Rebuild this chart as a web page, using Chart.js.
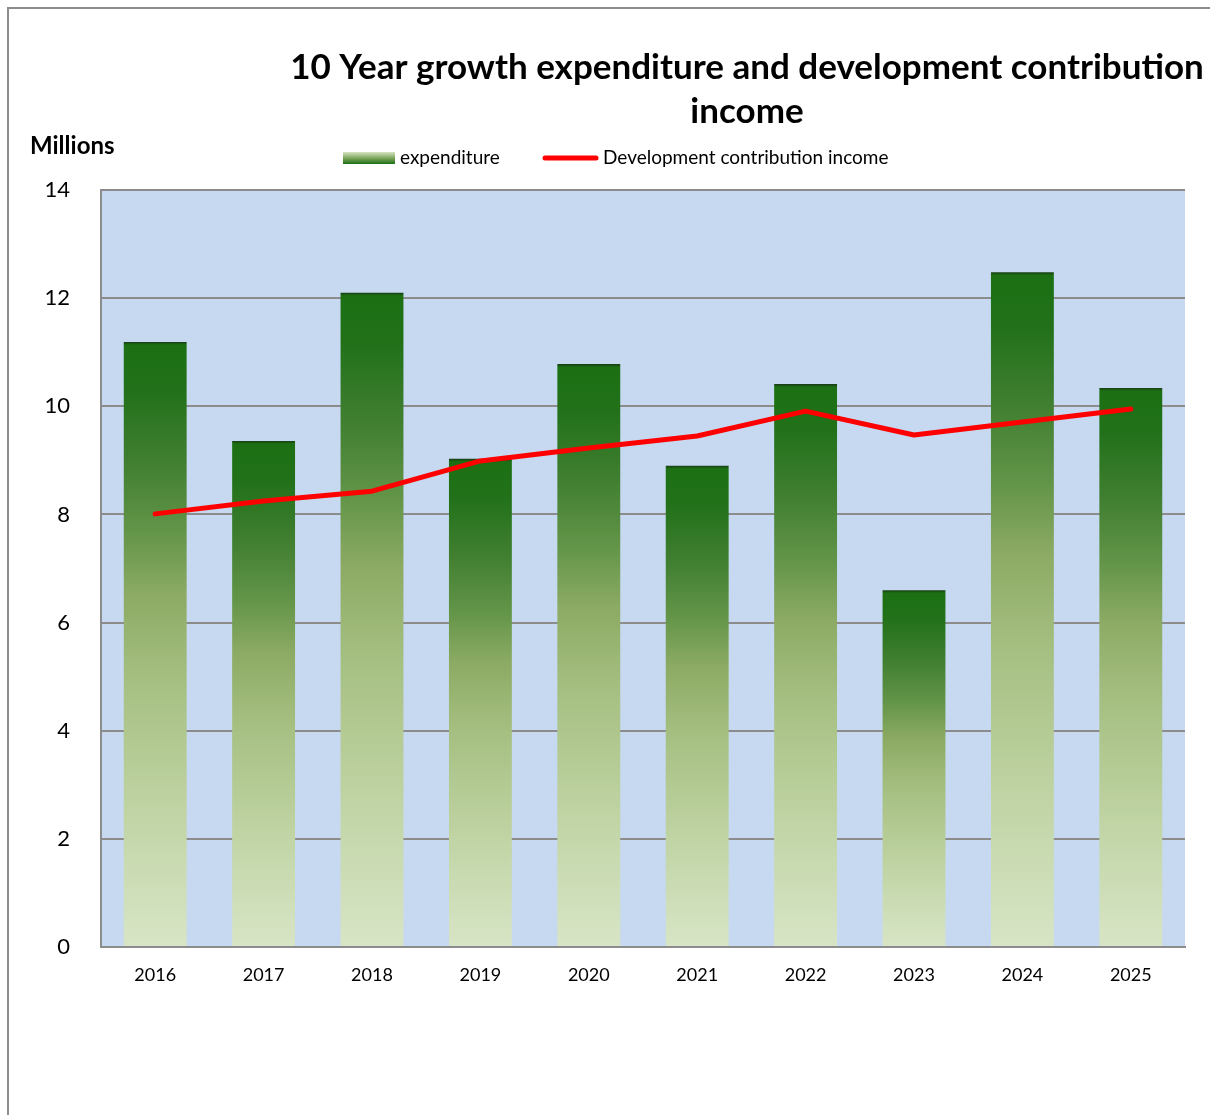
<!DOCTYPE html>
<html>
<head>
<meta charset="utf-8">
<script src="https://cdn.jsdelivr.net/npm/chart.js@4/dist/chart.umd.min.js"></script>
<style>
  html, body { margin: 0; padding: 0; background: #ffffff; }
  #wrap { position: relative; width: 1210px; height: 1115px; overflow: hidden; }
  #frame { position: absolute; left: 7px; top: 7px; width: 1400px; height: 1300px;
           border-left: 2px solid #8c8c8c; border-top: 2px solid #8c8c8c; }
  canvas { position: absolute; left: 0; top: 0; }
</style>
</head>
<body>
<div id="wrap">
  <div id="frame"></div>
  <canvas id="chart" width="1210" height="1115"></canvas>
</div>
<script>
// Years on the category axis
const years = ['2016', '2017', '2018', '2019', '2020', '2021', '2022', '2023', '2024', '2025'];
// Growth expenditure, millions
const expenditure = [11.19, 9.36, 12.10, 9.03, 10.78, 8.90, 10.41, 6.60, 12.48, 10.34];
// Development contribution income, millions
const income = [8.01, 8.25, 8.43, 8.99, 9.23, 9.45, 9.91, 9.47, 9.71, 9.95];
// Value axis ticks
const yTicks = [0, 2, 4, 6, 8, 10, 12, 14];

const titleLines = ['10 Year growth expenditure and development contribution', 'income'];
const unitLabel = 'Millions';
const expLabel = 'expenditure';
const incLabel = 'Development contribution income';

const FONT = 'Lato, "Open Sans", sans-serif';

// Vertical green fade for each bar, dark at the top and pale at the base
function barGradient(ctx) {
  const chart = ctx.chart;
  if (!chart.chartArea || ctx.type !== 'data') return '#4f8f3a';
  const y = chart.scales.y;
  const top = y.getPixelForValue(ctx.parsed.y);
  const bottom = y.getPixelForValue(0);
  const h = Math.max(1, bottom - top);
  const g = chart.ctx.createLinearGradient(0, top, 0, bottom);
  const edge = Math.min(0.03, 3 / h);
  g.addColorStop(0, '#173c14');
  g.addColorStop(edge, '#1c7013');
  g.addColorStop(0.08, '#22711a');
  g.addColorStop(0.2, '#417f31');
  g.addColorStop(0.32, '#65964a');
  g.addColorStop(0.42, '#8dab64');
  g.addColorStop(0.55, '#a4be80');
  g.addColorStop(0.7, '#b7cd98');
  g.addColorStop(0.85, '#c8dab0');
  g.addColorStop(1, '#d8e5c6');
  return g;
}

// Pale-blue plot background
const plotBackground = {
  id: 'plotBackground',
  beforeDraw(chart) {
    const { ctx, chartArea: a } = chart;
    ctx.save();
    ctx.fillStyle = '#c6d9f0';
    ctx.fillRect(a.left, a.top, a.right - a.left, a.bottom - a.top);
    ctx.restore();
  }
};

// Title, unit label and legend
const headerText = {
  id: 'headerText',
  afterDraw(chart) {
    const ctx = chart.ctx;
    ctx.save();
    ctx.fillStyle = '#000000';
    ctx.textBaseline = 'middle';

    ctx.font = 'bold 35px ' + FONT;
    ctx.textAlign = 'center';
    ctx.fillText(titleLines[0], 747, 68);
    ctx.fillText(titleLines[1], 747, 112);

    ctx.font = 'bold 24px ' + FONT;
    ctx.textAlign = 'left';
    ctx.fillText(unitLabel, 30, 146);

    // expenditure swatch
    const g = ctx.createLinearGradient(0, 152, 0, 164);
    g.addColorStop(0, '#d6e4c2');
    g.addColorStop(0.5, '#7fa860');
    g.addColorStop(1, '#1d6e14');
    ctx.fillStyle = g;
    ctx.fillRect(343, 152, 52, 12);

    ctx.fillStyle = '#000000';
    ctx.font = '19px ' + FONT;
    ctx.fillText(expLabel, 400, 158);

    // income line sample
    ctx.strokeStyle = '#ff0000';
    ctx.lineWidth = 5;
    ctx.lineCap = 'round';
    ctx.beginPath();
    ctx.moveTo(545, 158);
    ctx.lineTo(596, 158);
    ctx.stroke();

    ctx.fillText(incLabel, 603, 158);
    ctx.restore();
  }
};

new Chart(document.getElementById('chart'), {
  type: 'bar',
  data: {
    labels: years,
    datasets: [
      {
        type: 'line',
        label: incLabel,
        data: income,
        borderColor: '#ff0000',
        borderWidth: 5,
        borderCapStyle: 'round',
        borderJoinStyle: 'round',
        pointRadius: 0,
        tension: 0,
        fill: false,
        order: 0
      },
      {
        type: 'bar',
        label: expLabel,
        data: expenditure,
        backgroundColor: barGradient,
        borderWidth: 0,
        barPercentage: 0.58,
        categoryPercentage: 1,
        order: 1
      }
    ]
  },
  options: {
    responsive: false,
    animation: false,
    devicePixelRatio: 1,
    layout: { padding: { left: 0, right: 25, top: 190, bottom: 0 } },
    plugins: {
      legend: { display: false },
      title: { display: false },
      tooltip: { enabled: false }
    },
    scales: {
      x: {
        grid: { display: false, drawTicks: false },
        border: { display: true, color: '#8c8c8c', width: 2 },
        ticks: { color: '#000000', font: { family: FONT, size: 18 }, padding: 17 },
        afterFit(scale) { scale.height = 168; }
      },
      y: {
        min: 0,
        max: 14,
        afterBuildTicks(scale) { scale.ticks = yTicks.map(v => ({ value: v })); },
        grid: { color: '#8c8c8c', lineWidth: 2, drawTicks: false },
        border: { display: true, color: '#8c8c8c', width: 2 },
        ticks: { color: '#000000', font: { family: FONT, size: 22 }, padding: 31 },
        afterFit(scale) { scale.width = 101; }
      }
    }
  },
  plugins: [plotBackground, headerText]
});
</script>
</body>
</html>
